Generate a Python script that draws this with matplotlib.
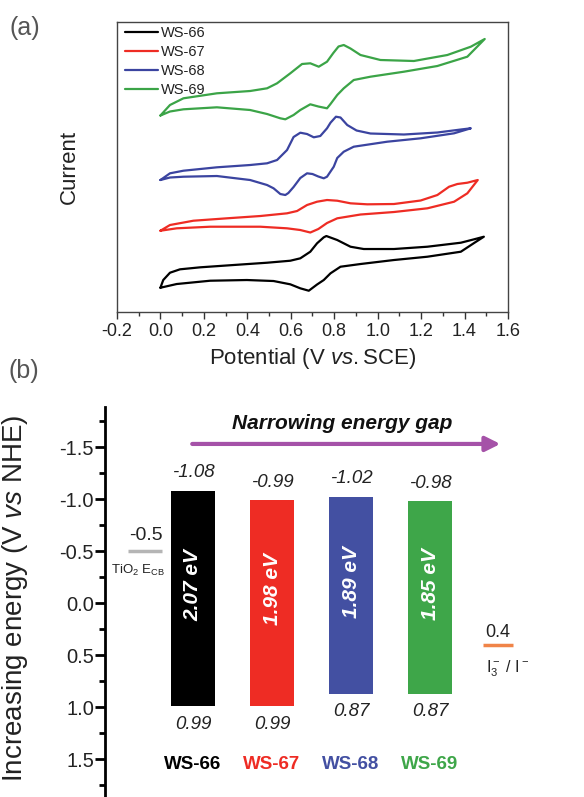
import matplotlib
matplotlib.use("Agg")
import matplotlib.pyplot as plt
from matplotlib.ticker import MultipleLocator

plt.rcParams["font.family"] = ["Liberation Sans", "DejaVu Sans"]
plt.rcParams["mathtext.fontset"] = "custom"
plt.rcParams["mathtext.rm"] = "Liberation Sans"
plt.rcParams["mathtext.it"] = "Liberation Sans:italic"
plt.rcParams["mathtext.bf"] = "Liberation Sans:bold"
plt.rcParams["axes.unicode_minus"] = False

# ---- (a) cyclic voltammograms: potential (V vs SCE), current (a.u., offset stacked)
ws66_v = [0.00, 0.013, 0.044, 0.090, 0.183, 0.336, 0.491, 0.598, 0.644, 0.690, 0.721, 0.752, 0.764, 0.814, 0.875,
          0.936, 1.075, 1.229, 1.383, 1.444, 1.489,
          1.444, 1.383, 1.229, 1.075, 0.921, 0.829, 0.783, 0.752, 0.721, 0.683, 0.644, 0.598, 0.521, 0.398, 0.229,
          0.075, 0.00]
ws66_i = [2.43, 3.20, 3.93, 4.27, 4.47, 4.70, 4.93, 5.13, 5.37, 6.03, 6.87, 7.47, 7.60, 7.20, 6.53,
          6.30, 6.30, 6.53, 6.93, 7.27, 7.53,
          6.90, 6.03, 5.53, 5.20, 4.80, 4.53, 3.87, 3.20, 2.75, 2.13, 2.37, 2.77, 3.10, 3.20, 3.13,
          2.80, 2.43]

ws67_v = [0.00, 0.044, 0.152, 0.306, 0.460, 0.583, 0.629, 0.675, 0.721, 0.767, 0.814, 0.875, 0.952, 1.075, 1.198,
          1.275, 1.329, 1.367, 1.413, 1.461,
          1.413, 1.352, 1.229, 1.075, 0.921, 0.814, 0.767, 0.727, 0.690, 0.644, 0.583, 0.460, 0.229, 0.075, 0.00]
ws67_i = [8.13, 8.70, 9.13, 9.37, 9.60, 9.87, 10.10, 10.70, 11.03, 11.20, 11.13, 10.87, 10.77, 10.80, 11.15,
          11.70, 12.53, 12.80, 12.93, 13.20,
          11.87, 11.03, 10.37, 10.00, 9.75, 9.37, 8.90, 8.30, 7.95, 8.20, 8.37, 8.53, 8.53, 8.37, 8.13]

ws68_v = [0.00, 0.044, 0.106, 0.260, 0.413, 0.491, 0.537, 0.583, 0.613, 0.644, 0.675, 0.706, 0.736, 0.767, 0.783,
          0.808, 0.829, 0.860, 0.903, 0.967, 1.121, 1.275, 1.383, 1.429,
          1.352, 1.198, 1.044, 0.890, 0.844, 0.814, 0.798, 0.767, 0.752, 0.727, 0.700, 0.675, 0.644, 0.613, 0.589,
          0.575, 0.552, 0.521, 0.491, 0.413, 0.260, 0.106, 0.044, 0.00]
ws68_i = [13.20, 13.87, 14.13, 14.47, 14.70, 14.87, 15.20, 16.20, 17.50, 17.93, 17.80, 17.47, 17.60, 18.37, 18.93,
          19.53, 19.45, 18.70, 18.15, 17.85, 17.75, 17.95, 18.25, 18.37,
          17.87, 17.37, 17.03, 16.53, 16.03, 15.40, 14.53, 13.53, 13.37, 13.55, 13.80, 13.87, 13.40, 12.50, 11.90,
          11.70, 11.80, 12.37, 12.70, 13.20, 13.60, 13.53, 13.45, 13.20]

ws69_v = [0.00, 0.044, 0.106, 0.260, 0.413, 0.491, 0.537, 0.598, 0.652, 0.690, 0.729, 0.767, 0.796, 0.820, 0.844,
          0.875, 0.921, 1.013, 1.167, 1.321, 1.429, 1.493,
          1.413, 1.275, 1.121, 0.967, 0.890, 0.844, 0.814, 0.783, 0.767, 0.727, 0.690, 0.644, 0.613, 0.575, 0.552,
          0.491, 0.413, 0.260, 0.106, 0.044, 0.00]
ws69_i = [19.65, 20.70, 21.37, 21.87, 22.10, 22.37, 22.87, 23.87, 24.80, 24.87, 24.53, 25.03, 25.90, 26.55, 26.70,
          26.35, 25.70, 25.20, 25.10, 25.70, 26.53, 27.30,
          25.53, 24.60, 24.03, 23.53, 23.20, 22.37, 21.70, 20.80, 20.37, 20.55, 20.77, 20.20, 19.70, 19.27, 19.37,
          19.80, 20.20, 20.47, 20.27, 20.05, 19.65]

# ---- (b) energy levels (V vs NHE)
samples = ["WS-66", "WS-67", "WS-68", "WS-69"]
lumo = [-1.08, -0.99, -1.02, -0.98]
homo = [0.99, 0.99, 0.87, 0.87]
gaps = [2.07, 1.98, 1.89, 1.85]
tio2_ecb = -0.5
redox = 0.4

COLORS = ["#000000", "#ee2c24", "#4350a2", "#3ea649"]
CV_COLORS = ["#000000", "#ee2c24", "#3b44a0", "#3ba447"]

fig = plt.figure(figsize=(5.84, 7.97), dpi=100, facecolor="white")

# ---------------- panel (a)
ax = fig.add_axes([0.2003, 0.6085, 0.6695, 0.3639])
curves = [(ws66_v, ws66_i), (ws67_v, ws67_i), (ws68_v, ws68_i), (ws69_v, ws69_i)]
for (v, i), color, name in zip(curves, CV_COLORS, samples):
    ax.plot(v, i, color=color, linewidth=1.6, solid_joinstyle="round", solid_capstyle="round", label=name)
ax.set_xlim(-0.2, 1.6)
ax.set_ylim(0, 29)
ax.xaxis.set_major_locator(MultipleLocator(0.2))
ax.xaxis.set_minor_locator(MultipleLocator(0.1))
ax.set_xticklabels([f"{t:.1f}" for t in ax.get_xticks()])
ax.tick_params(axis="x", which="major", direction="out", length=5, width=1, labelsize=13, pad=3, colors="#333333",
               labelcolor="#222222")
ax.tick_params(axis="x", which="minor", direction="out", length=3, width=1, colors="#333333")
ax.set_yticks([])
for spine in ax.spines.values():
    spine.set_color("#444444")
    spine.set_linewidth(1.0)
ax.set_xlabel("Potential (V $\\mathit{vs.}$SCE)", fontsize=16, color="#222222", labelpad=4)
ax.set_ylabel("Current", fontsize=16, color="#222222")
ax.yaxis.set_label_coords(-0.095, 0.5)
leg = ax.legend(loc="upper left", bbox_to_anchor=(0.02, 0.985), frameon=False, fontsize=10.5,
                handlelength=2.3, handletextpad=0.2, labelspacing=0.33, borderpad=0, borderaxespad=0)
for text in leg.get_texts():
    text.set_color("#222222")
fig.text(0.017, 0.965, "(a)", fontsize=18, color="#555555", ha="left", va="center")

# ---------------- panel (b)
bx = fig.add_axes([0.1798, 0.0, 0.8202, 0.4893])
bx.set_xlim(-1.114, 4.949)
bx.set_ylim(1.865, -1.885)
x = list(range(len(samples)))
heights = [h - l for h, l in zip(homo, lumo)]
bx.bar(x, heights, bottom=lumo, width=0.55, color=COLORS, edgecolor="none")

for xi, lo, hi, gap, name, color in zip(x, lumo, homo, gaps, samples, COLORS):
    bx.annotate(f"{lo:.2f}", (xi, lo), xytext=(0, 13), textcoords="offset points", ha="center", va="center",
                fontsize=13.5, fontstyle="italic", color="#222222")
    bx.annotate(f"{hi:.2f}", (xi, hi), xytext=(0, -13), textcoords="offset points", ha="center", va="center",
                fontsize=13.5, fontstyle="italic", color="#222222")
    bx.text(xi, (lo + hi) / 2 - 0.13, f"{gap:.2f} eV", rotation=90, ha="center", va="center", fontsize=15,
            fontweight="bold", fontstyle="italic", color="white")
    bx.text(xi, 1.55, name, ha="center", va="center", fontsize=13.5, fontweight="bold", color=color)

# arrow and caption
bx.annotate("", xy=(3.89, -1.53), xytext=(-0.01, -1.53),
            arrowprops=dict(arrowstyle="-|>", color="#a552a8", lw=3, mutation_scale=22, shrinkA=0, shrinkB=0))
bx.text(1.89, -1.73, "Narrowing energy gap", ha="center", va="center", fontsize=15, fontweight="bold",
        fontstyle="italic", color="#111111")

# TiO2 conduction band
bx.plot([-0.823, -0.392], [tio2_ecb, tio2_ecb], color="#b5b5b5", linewidth=2.5, solid_capstyle="butt")
bx.text(-0.59, tio2_ecb - 0.15, f"{tio2_ecb:.1f}", ha="center", va="center", fontsize=14, color="#222222")
bx.text(-0.70, tio2_ecb + 0.19, "TiO$_2$ E$_{\\mathrm{CB}}$", ha="center", va="center", fontsize=9.5,
        color="#222222")

# I3-/I- redox level
bx.plot([3.67, 4.05], [redox, redox], color="#f08448", linewidth=2.5, solid_capstyle="butt")
bx.text(3.86, redox - 0.12, f"{redox:.1f}", ha="center", va="center", fontsize=13, color="#222222")
bx.text(3.98, redox + 0.23, "I$_3^-$ / I$^-$", ha="center", va="center", fontsize=11.5, color="#222222")

bx.set_yticks([-1.5, -1.0, -0.5, 0.0, 0.5, 1.0, 1.5])
bx.set_yticklabels([f"{t:.1f}" for t in [-1.5, -1.0, -0.5, 0.0, 0.5, 1.0, 1.5]])
bx.yaxis.set_minor_locator(MultipleLocator(0.25))
bx.tick_params(axis="y", which="major", direction="out", length=7, width=2, labelsize=14.5, pad=1,
               labelcolor="#222222")
bx.tick_params(axis="y", which="minor", direction="out", length=4, width=2)
bx.set_xticks([])
for spine in ["top", "right", "bottom"]:
    bx.spines[spine].set_visible(False)
bx.spines["left"].set_linewidth(2)
bx.set_ylabel("Increasing energy (V $\\mathit{vs}$ NHE)", fontsize=20, color="#222222")
bx.yaxis.set_label_coords(-0.157, 0.51)
fig.text(0.014, 0.535, "(b)", fontsize=18, color="#555555", ha="left", va="center")

fig.savefig("out.png", dpi=100, facecolor="white")
